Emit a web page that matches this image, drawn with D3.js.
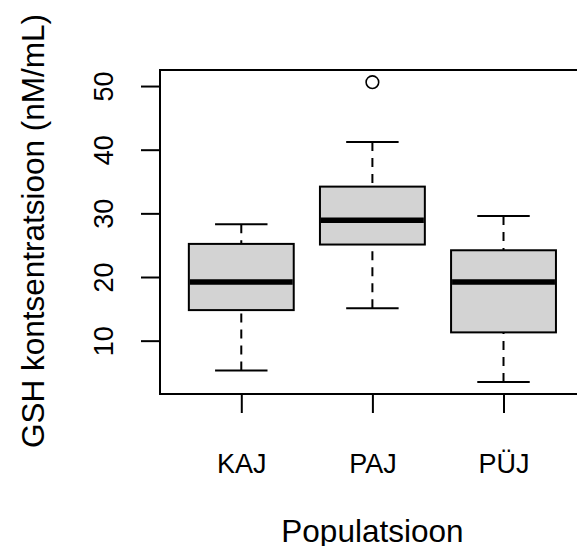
<!DOCTYPE html>
<html>
<head>
<meta charset="utf-8">
<script src="https://cdn.jsdelivr.net/npm/d3@7"></script>
<style>
  html, body { margin: 0; padding: 0; background: #fff; }
  svg { display: block; }
  text { font-family: "Liberation Sans", Arial, sans-serif; fill: #000; }
</style>
</head>
<body>
<script>
// ---- data ----
const categories = ["KAJ", "PAJ", "PÜJ"];
const whiskerLow = [5.3, 15.1, 3.5];
const q1 = [14.8, 25.1, 11.3];
const medians = [19.2, 28.9, 19.2];
const q3 = [25.2, 34.2, 24.2];
const whiskerHigh = [28.3, 41.2, 29.6];
const outliers = [[], [50.6], []];
const yTicks = [10, 20, 30, 40, 50];
const yTitle = "GSH kontsentratsioon (nM/mL)";
const xTitle = "Populatsioon";

// ---- layout ----
const W = 577, H = 546;
const plot = { left: 160, right: 584.8, top: 70, bottom: 394 };

const svg = d3.select("body").append("svg").attr("width", W).attr("height", H);

const x = d3.scaleLinear().domain([0.38, categories.length + 0.62]).range([plot.left, plot.right]);
const y = d3.scaleLinear().domain([1.62, 52.52]).range([plot.bottom, plot.top]);

const boxW = x(0.8) - x(0);
const capW = x(0.4) - x(0);

const data = categories.map((c, i) => ({
  cat: c, i: i + 1, lo: whiskerLow[i], q1: q1[i], med: medians[i], q3: q3[i], hi: whiskerHigh[i], out: outliers[i]
}));

const g = svg.append("g");

// whiskers (dashed), drawn from whisker end toward the box
g.selectAll(".wl").data(data).enter().append("line")
  .attr("x1", d => x(d.i)).attr("x2", d => x(d.i))
  .attr("y1", d => y(d.lo)).attr("y2", d => y(d.q1))
  .attr("stroke", "#000").attr("stroke-width", 2).attr("stroke-dasharray", "9,7");
g.selectAll(".wh").data(data).enter().append("line")
  .attr("x1", d => x(d.i)).attr("x2", d => x(d.i))
  .attr("y1", d => y(d.hi)).attr("y2", d => y(d.q3))
  .attr("stroke", "#000").attr("stroke-width", 2).attr("stroke-dasharray", "9,7");

// caps
["lo", "hi"].forEach(k => {
  g.selectAll(".cap" + k).data(data).enter().append("line")
    .attr("x1", d => x(d.i) - capW / 2).attr("x2", d => x(d.i) + capW / 2)
    .attr("y1", d => y(d[k])).attr("y2", d => y(d[k]))
    .attr("stroke", "#000").attr("stroke-width", 2);
});

// boxes
g.selectAll(".box").data(data).enter().append("rect")
  .attr("x", d => x(d.i) - boxW / 2).attr("width", boxW)
  .attr("y", d => y(d.q3)).attr("height", d => y(d.q1) - y(d.q3))
  .attr("fill", "#D3D3D3").attr("stroke", "#000").attr("stroke-width", 2);

// medians
g.selectAll(".med").data(data).enter().append("line")
  .attr("x1", d => x(d.i) - boxW / 2 + 1).attr("x2", d => x(d.i) + boxW / 2 - 1)
  .attr("y1", d => y(d.med)).attr("y2", d => y(d.med))
  .attr("stroke", "#000").attr("stroke-width", 5.5);

// outliers
data.forEach(d => {
  g.selectAll(null).data(d.out).enter().append("circle")
    .attr("cx", x(d.i)).attr("cy", v => y(v)).attr("r", 6.3)
    .attr("fill", "none").attr("stroke", "#000").attr("stroke-width", 1.6);
});

// frame
svg.append("rect")
  .attr("x", plot.left).attr("y", plot.top)
  .attr("width", plot.right - plot.left).attr("height", plot.bottom - plot.top)
  .attr("fill", "none").attr("stroke", "#000").attr("stroke-width", 2);

// y axis
const yAxis = d3.axisLeft(y).tickValues(yTicks).tickSize(19).tickPadding(0).tickFormat(d3.format("d"));
const ya = svg.append("g").attr("transform", `translate(${plot.left},0)`).call(yAxis);
ya.select(".domain").attr("stroke", "#000").attr("stroke-width", 2)
  .attr("d", `M0,${y(yTicks[0])}V${y(yTicks[yTicks.length - 1])}`);
ya.selectAll(".tick line").attr("stroke", "#000").attr("stroke-width", 2);
ya.selectAll(".tick text")
  .attr("x", 0).attr("dy", null)
  .attr("transform", "translate(-47.5,0) rotate(-90)")
  .attr("text-anchor", "middle")
  .attr("y", 0)
  .style("font-size", "27px").style("font-family", "'Liberation Sans', Arial, sans-serif").attr("fill", "#000");

// x axis
const xAxis = d3.axisBottom(x).tickValues(data.map(d => d.i)).tickSize(19).tickPadding(0)
  .tickFormat(v => categories[v - 1]);
const xa = svg.append("g").attr("transform", `translate(0,${plot.bottom})`).call(xAxis);
xa.select(".domain").remove();
xa.selectAll(".tick line").attr("stroke", "#000").attr("stroke-width", 2);
xa.selectAll(".tick text")
  .attr("y", 79).attr("dy", null)
  .style("font-size", "27px").style("font-family", "'Liberation Sans', Arial, sans-serif").attr("fill", "#000");

// titles
svg.append("text")
  .attr("transform", `translate(44,231) rotate(-90)`)
  .attr("text-anchor", "middle")
  .style("font-size", "31.5px")
  .text(yTitle);

svg.append("text")
  .attr("x", (plot.left + plot.right) / 2).attr("y", 542)
  .attr("text-anchor", "middle")
  .style("font-size", "31.5px")
  .text(xTitle);
</script>
</body>
</html>
